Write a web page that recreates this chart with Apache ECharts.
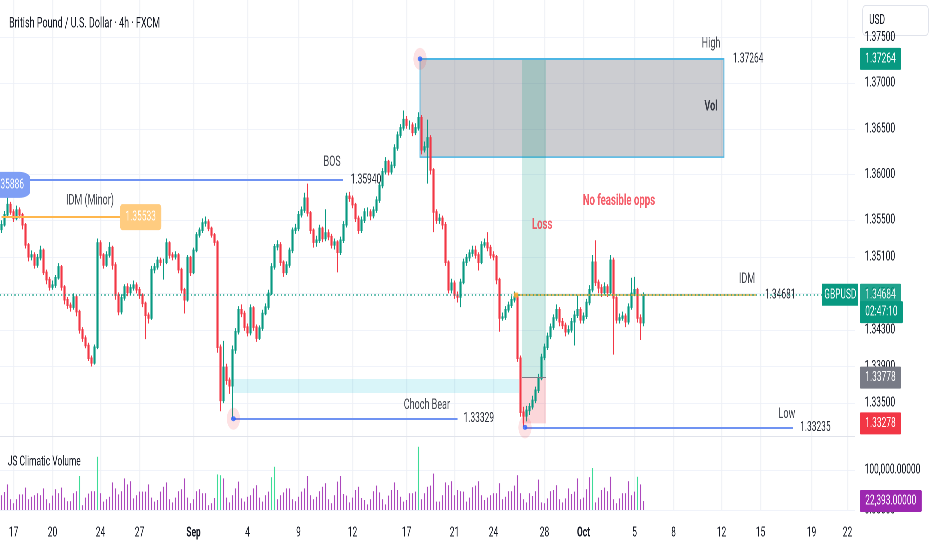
<!DOCTYPE html>
<html><head><meta charset="utf-8">
<script src="https://cdn.jsdelivr.net/npm/echarts@6/dist/echarts.min.js"></script>
<style>
html,body{margin:0;padding:0;background:#fff;overflow:hidden;width:932px;height:550px}
#wrap{width:932px;height:550px;overflow:hidden;position:relative}
#chart{width:1553px;height:550px;transform:scaleX(0.6);transform-origin:0 0;position:absolute;left:0;top:0}
</style></head><body><div id="wrap"><div id="chart"></div></div>
<script>
// prices are stored in pips above BASE (price = BASE + p/10000)
const BASE = 1.3;
const firstOpen = 540;
const closes = [545,556,567,559,552,561,556,545,523,510,
512,501,509,517,493,485,477,479,487,499,
477,463,457,455,466,450,430,421,413,399,
394,411,525,512,501,512,520,501,468,450,
465,477,471,476,479,474,468,459,446,443,
496,499,506,504,504,525,512,510,512,496,
474,463,509,493,517,534,539,547,548,541,
534,526,411,353,389,375,369,408,428,452,
448,433,427,454,433,421,432,448,455,470,
499,521,523,504,493,501,517,539,541,556,
561,574,558,539,526,528,541,530,536,532,
523,526,515,528,545,576,574,567,552,539,
550,559,559,555,561,572,588,603,614,603,
610,629,643,651,660,654,654,646,651,662,
627,630,640,605,559,550,552,545,504,474,
481,468,466,482,504,509,514,517,512,504,
523,525,520,512,510,485,443,444,452,457,
463,466,399,340,336,342,346,353,364,377,
400,411,423,433,443,452,439,435,428,430,
439,446,452,441,445,460,474,504,482,476,
471,477,471,506,465,441,443,445,439,455,
470,474,443,438,468];
const highs = [550,560,575,570,562,566,564,558,547,525,
517,515,513,522,519,496,488,484,490,503,
501,479,466,460,470,468,452,433,424,416,
402,414,530,528,514,516,526,522,504,471,
469,480,481,480,484,482,477,470,461,449,
500,503,510,509,508,530,527,515,516,514,
498,476,512,511,520,537,542,552,554,551,
543,536,528,414,418,393,378,413,432,456,
458,451,437,458,456,436,435,452,459,474,
503,524,528,526,506,505,520,542,546,560,
565,580,590,560,541,533,545,543,562,540,
535,530,528,532,549,580,581,577,569,555,
554,563,564,562,565,576,592,607,619,616,
614,633,647,655,670,664,659,657,656,668,
665,636,660,643,607,562,557,555,548,506,
486,484,472,486,508,513,518,522,522,515,
527,530,537,523,516,512,487,449,456,461,
467,472,469,402,346,347,350,358,368,382,
404,415,427,437,447,458,455,443,438,435,
443,451,468,455,449,464,479,512,528,485,
480,482,480,512,509,467,448,450,448,459,
487,488,476,447,471];
const lows = [536,543,553,556,548,550,552,540,519,505,
506,497,498,506,490,480,473,474,476,485,
473,458,453,450,452,445,426,417,410,396,
390,392,409,508,497,499,509,496,463,446,
447,462,467,468,473,470,464,455,420,437,
441,492,496,500,485,502,508,506,507,492,
470,448,461,489,491,515,531,536,543,538,
531,522,405,341,350,370,360,333,404,425,
444,429,423,424,429,417,419,429,446,452,
468,496,517,500,488,490,498,514,535,538,
553,558,554,535,520,521,525,526,527,528,
519,518,493,512,525,542,570,563,548,535,
536,547,554,550,552,558,569,585,600,599,
600,607,626,640,648,650,649,642,643,648,
622,624,590,600,537,546,546,540,500,470,
470,464,460,455,480,500,505,510,508,495,
502,520,516,508,506,480,428,440,441,449,
454,460,395,335,324,330,337,343,350,361,
375,397,408,420,430,440,434,431,423,425,
427,413,443,437,437,442,457,471,478,470,
466,468,466,469,403,437,437,440,433,436,
452,467,438,419,434];
// volume in thousands
const volumes = [37,45,64,27,17,27,39,39,56,27,
33,37,42,37,54,27,17,36,52,42,
56,31,22,22,42,47,85,12,31,41,
47,47,133,42,21,27,33,69,54,39,
47,79,64,72,29,37,46,46,46,64,
31,21,25,46,58,69,27,19,31,47,
52,79,31,17,27,47,52,42,42,12,
17,30,89,87,79,31,19,37,54,71,
29,21,33,37,54,62,31,21,37,46,
82,108,27,37,44,54,54,27,22,33,
46,54,85,37,27,33,47,58,67,27,
17,37,71,85,40,36,19,31,50,58,
30,25,14,27,47,61,44,27,14,36,
50,69,50,33,21,25,42,42,46,158,
27,42,58,61,91,21,21,37,69,62,
72,37,50,47,46,21,31,57,61,72,
37,25,31,37,42,42,67,27,33,47,
47,61,87,42,27,19,42,35,47,76,
19,17,29,47,50,62,27,19,29,54,
40,46,79,27,31,52,82,105,19,31,
50,56,47,83,27,17,29,42,42,72,
37,46,83,64,22.393];
const climacticBars = [26,32,72,73,90,91,139,197,212];
const futureSlots = 70;
const dateTicks = [[4,'17'],[17,'20'],[33,'24'],[46,'27'],[64,'Sep'],[82,'4'],[99,'9'],[117,'12'],[135,'17'],[151,'21'],[164,'24'],[181,'28'],[194,'Oct'],[211,'5'],[224,'8'],[240,'12'],[253,'15'],[270,'19'],[282,'22']];
const priceTicks = [1.335,1.339,1.343,1.347,1.351,1.355,1.360,1.365,1.370,1.375];
const volumeTicks = [0,100000];

// key levels
const HIGH = 1.37264, VOL_BOTTOM = 1.3619, BOS_LEVEL = 1.3594, BOS_TAG = 1.35886;
const IDM_MINOR = 1.35533, CHOCH = 1.33329, LOW = 1.33235, IDM = 1.34681, LAST = 1.34684;
const ENTRY = 1.33778, STOP = 1.33278, FVG_TOP = 1.33763, FVG_BOTTOM = 1.3361, LAST_VOL = 22393;
const COUNTDOWN_ROW = 1.34495;

const GREEN = '#089981', RED = '#f23645', BLUE = '#7093f2', TEXT = '#131722', VALTXT = '#2a2e39';
const FONT = 'Roboto, "Noto Sans", sans-serif';

const priceOf = p => +(BASE + p / 10000).toFixed(5);
const total = closes.length + futureSlots;
const cats = Array.from({length: total}, (_, i) => String(i));
const tickMap = Object.fromEntries(dateTicks);
const candleData = closes.map((c, i) => {
  const o = i === 0 ? firstOpen : closes[i - 1];
  return [priceOf(o), priceOf(c), priceOf(lows[i]), priceOf(highs[i])];
});
const volData = volumes.map((v, i) => ({
  value: Math.round(v * 1000),
  itemStyle: {color: climacticBars.includes(i) ? '#3ddc97' : '#ab47bc'}
}));
const fmtVol = v => v.toLocaleString('en-US', {minimumFractionDigits: 5, maximumFractionDigits: 5});

function seg(x1, x2, y, color, width, text, dist, labelExtra) {
  return [{
    coord: [x1, y],
    lineStyle: {color, width, type: 'solid'},
    label: Object.assign({show: !!text, position: 'end', distance: dist, formatter: text, color: VALTXT, fontSize: 14}, labelExtra || {})
  }, {coord: [x2, y]}];
}
function tag(text, bg) {
  return {show: true, position: 'end', distance: 8, formatter: text, color: '#fff', backgroundColor: bg,
    padding: [3, 9], fontSize: 14, lineHeight: 16, borderRadius: 2};
}
function note(x, y, text, style) {
  return {value: [x, y], name: text,
    label: Object.assign({show: true, position: 'inside', formatter: '{b}', color: TEXT, fontSize: 15}, style || {})};
}

const vsplit = {show: true, alignWithLabel: true, interval: (i) => tickMap[i] !== undefined,
  lineStyle: {color: '#eef0f5', width: 1.6}};

const option = {
  animation: false,
  backgroundColor: '#ffffff',
  textStyle: {fontFamily: FONT},
  title: [
    {text: 'British Pound / U.S. Dollar · 4h · FXCM', left: 10, top: 11,
     textStyle: {fontSize: 15, fontWeight: 'normal', color: TEXT, fontFamily: FONT}},
    {text: 'JS Climatic Volume', left: 8, top: 450,
     textStyle: {fontSize: 14, fontWeight: 'normal', color: TEXT, fontFamily: FONT}}
  ],
  grid: [
    {left: 0, top: 0, width: 1425, height: 436},
    {left: 0, top: 437, width: 1425, height: 73}
  ],
  xAxis: [
    {gridIndex: 0, type: 'category', data: cats, axisLabel: {show: false}, axisTick: {show: false},
     axisLine: {show: true, lineStyle: {color: '#e0e3eb'}}, splitLine: vsplit},
    {gridIndex: 1, type: 'category', data: cats, axisTick: {show: false}, axisLine: {show: false}, splitLine: vsplit,
     axisLabel: {interval: (i) => tickMap[i] !== undefined, margin: 16, fontSize: 14, color: TEXT,
       formatter: (v, i) => { const t = tickMap[i] || ''; return /^[A-Z]/.test(t) ? '{m|' + t + '}' : t; },
       rich: {m: {fontWeight: 'bold', fontSize: 14, color: TEXT, fontFamily: FONT}}}},
    {gridIndex: 0, type: 'value', min: -0.5, max: total - 0.5, show: false}
  ],
  yAxis: [
    {gridIndex: 0, type: 'value', position: 'right', min: 1.3314, max: 1.37908,
     axisLabel: {customValues: priceTicks, formatter: v => v.toFixed(5), color: TEXT, fontSize: 14, margin: 16},
     axisTick: {show: false, customValues: priceTicks}, axisLine: {show: false},
     splitLine: {show: true, lineStyle: {color: '#f0f3fa'}}},
    {gridIndex: 1, type: 'value', position: 'right', min: 0, max: 182500,
     axisLabel: {customValues: volumeTicks, formatter: fmtVol, color: TEXT, fontSize: 14, margin: 16},
     axisTick: {show: false, customValues: volumeTicks}, axisLine: {show: false},
     splitLine: {show: true, lineStyle: {color: '#f0f3fa'}}}
  ],
  graphic: [{
    type: 'group', left: 1437, top: 5, z: 100,
    children: [
      {type: 'rect', shape: {x: 0, y: 0, width: 110, height: 30, r: 5}, style: {fill: '#fff', stroke: '#e0e3eb', lineWidth: 1}},
      {type: 'text', style: {x: 11, y: 15, text: 'USD', fill: TEXT, font: '14px ' + FONT, verticalAlign: 'middle'}}
    ]
  }],
  series: [
    {name: 'levels', type: 'line', xAxisIndex: 2, yAxisIndex: 0, data: [], z: 2, silent: true,
     markLine: {silent: true, precision: 6, symbol: ['none', 'none'], animation: false, data: [
       seg(0, 113.8, BOS_LEVEL, BLUE, 2, '1.35940', 13),
       seg(0, 39.5, IDM_MINOR, '#ffb74d', 2, '1.35533', 0,
         {color: '#fff', backgroundColor: '#ffcc80', padding: [6, 9], borderRadius: 4}),
       seg(77.3, 152, CHOCH, BLUE, 2, '1.33329', 10),
       seg(174.5, 263.8, LOW, BLUE, 2, '1.33235', 12),
       seg(171.5, 251.5, IDM, '#d4aa3c', 1.5, '1.34681', 15)
     ]}},
    {name: 'GBPUSD', type: 'candlestick', xAxisIndex: 0, yAxisIndex: 0, data: candleData, z: 3,
     barWidth: '62%',
     itemStyle: {color: GREEN, color0: RED, borderColor: GREEN, borderColor0: RED, borderWidth: 1.5}},
    {name: 'zones', type: 'line', xAxisIndex: 2, yAxisIndex: 0, data: [], z: 4, silent: true,
     markArea: {silent: true, label: {show: false}, data: [
       [{coord: [139.5, HIGH], itemStyle: {color: 'rgba(120,123,134,0.38)', borderColor: '#4db6e4', borderWidth: 1.5}}, {coord: [240.8, VOL_BOTTOM]}],
       [{coord: [173.5, HIGH], itemStyle: {color: 'rgba(8,153,129,0.2)'}}, {coord: [181.5, ENTRY]}],
       [{coord: [173.5, ENTRY], itemStyle: {color: 'rgba(242,54,69,0.2)'}}, {coord: [181.5, STOP]}],
       [{coord: [77.3, FVG_TOP], itemStyle: {color: 'rgba(0,188,212,0.15)'}}, {coord: [172.5, FVG_BOTTOM]}]
     ]},
     markLine: {silent: true, precision: 6, symbol: ['none', 'none'], animation: false, data: [
       seg(139.5, 240.8, HIGH, '#4db6e4', 2, '1.37264', 15),
       seg(173.5, 181.5, ENTRY, '#787b86', 1, '', 0)
     ]}},
    {name: 'pivotRing', type: 'scatter', xAxisIndex: 2, yAxisIndex: 0, z: 6, silent: true,
     symbolSize: 22, itemStyle: {color: 'rgba(242,54,69,0.18)'},
     data: [[139.5, HIGH], [77.3, CHOCH], [174.5, LOW]]},
    {name: 'pivotDot', type: 'scatter', xAxisIndex: 2, yAxisIndex: 0, z: 7, silent: true,
     symbolSize: [8, 5], itemStyle: {color: '#2962ff'},
     data: [[139.5, HIGH], [77.3, CHOCH], [174.5, LOW],
            {value: [171.5, IDM], itemStyle: {color: '#ffa726'}, symbol: 'rect', symbolSize: [8, 5]}]},
    {name: 'notes', type: 'scatter', xAxisIndex: 2, yAxisIndex: 0, z: 8, silent: true,
     symbolSize: 1, itemStyle: {color: 'rgba(0,0,0,0)'},
     data: [
       note(110.2, 1.36136, 'BOS'),
       note(29.5, 1.3571, 'IDM (Minor)'),
       note(141.8, 1.33478, 'Choch Bear'),
       note(261.8, 1.3338, 'Low'),
       note(248.5, 1.34856, 'IDM'),
       note(236.5, 1.37427, 'High'),
       note(236.5, 1.36738, 'Vol', {fontWeight: 'bold'}),
       note(180.2, 1.35447, 'Loss', {fontWeight: 'bold', color: RED, fontSize: 16}),
       note(205.8, 1.3571, 'No feasible opps', {fontWeight: 'bold', color: RED, fontSize: 16})
     ]},
    {name: 'axisTags', type: 'line', xAxisIndex: 2, yAxisIndex: 0, data: [], z: 10, silent: true,
     markLine: {silent: true, precision: 6, symbol: ['none', 'none'], animation: false,
       lineStyle: {color: 'rgba(0,0,0,0)', width: 0},
       data: [
         {yAxis: LAST, lineStyle: {color: GREEN, type: [2, 4], width: 1.5, opacity: 0.9}, label: tag('1.34684', GREEN)},
         {yAxis: COUNTDOWN_ROW, lineStyle: {color: 'rgba(0,0,0,0)', width: 0}, label: tag('02:47:10', GREEN)},
         {yAxis: HIGH, lineStyle: {color: 'rgba(0,0,0,0)', width: 0}, label: tag('1.37264', GREEN)},
         {yAxis: ENTRY, lineStyle: {color: 'rgba(0,0,0,0)', width: 0}, label: tag('1.33778', '#787b86')},
         {yAxis: STOP, lineStyle: {color: 'rgba(0,0,0,0)', width: 0}, label: tag('1.33278', RED)}
       ]},
     markPoint: {silent: true, animation: false, data: [
       {coord: [284, LAST], symbol: 'rect', symbolSize: [60, 22], symbolOffset: [-22, 0],
        itemStyle: {color: GREEN}, label: {show: true, position: 'inside', formatter: 'GBPUSD', color: '#fff', fontSize: 14}},
       {coord: [0, BOS_TAG], symbol: 'roundRect', symbolSize: [72, 26], symbolOffset: [12, 0],
        itemStyle: {color: '#7f9ff5'}, label: {show: true, position: 'inside', formatter: '1.35886', color: '#fff', fontSize: 14}}
     ]}},
    {name: 'JS Climatic Volume', type: 'bar', xAxisIndex: 1, yAxisIndex: 1, data: volData, barWidth: '42%', z: 3,
     markLine: {silent: true, precision: 6, symbol: ['none', 'none'], animation: false,
       lineStyle: {color: 'rgba(0,0,0,0)', width: 0},
       data: [{yAxis: LAST_VOL, label: tag(fmtVol(LAST_VOL), '#9c27b0')}]}}
  ]
};
const chart = echarts.init(document.getElementById('chart'), null, {devicePixelRatio: 2});
chart.setOption(option);
</script></body></html>
